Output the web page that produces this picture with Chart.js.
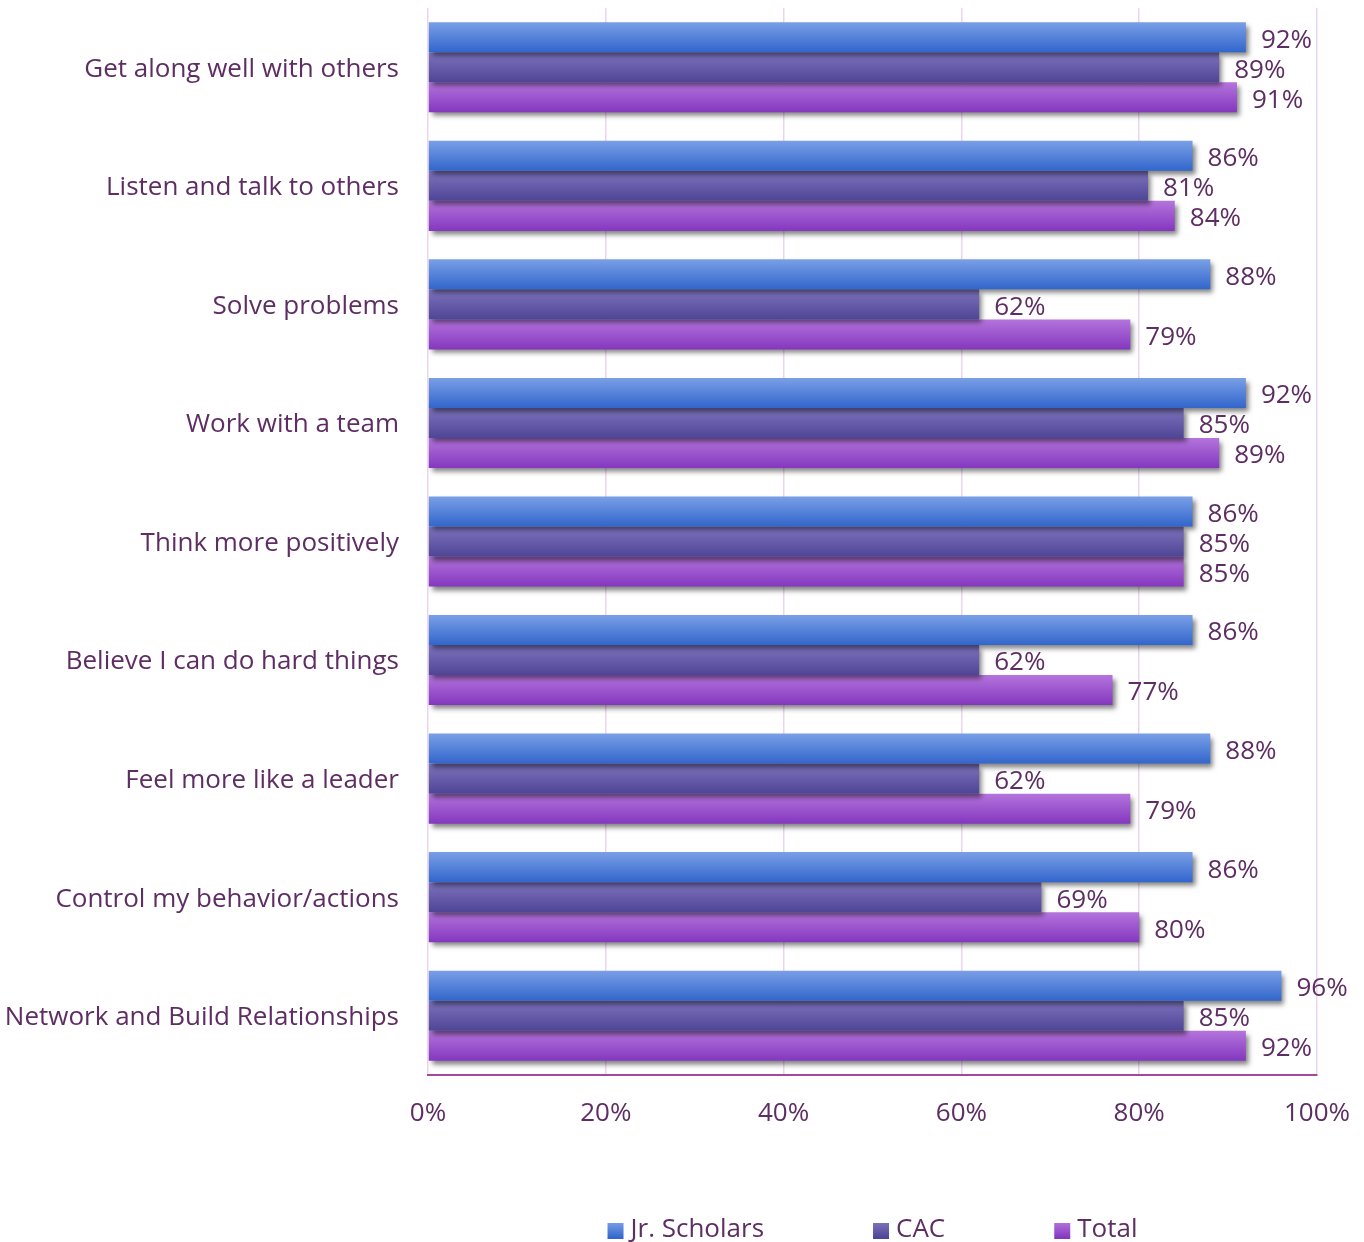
<!DOCTYPE html>
<html>
<head>
<meta charset="utf-8">
<script src="https://cdn.jsdelivr.net/npm/chart.js@4"></script>
<style>
  html, body { margin: 0; padding: 0; background: #fff; }
  #wrap { width: 1364px; height: 1242px; position: relative; }
</style>
</head>
<body>
<div id="wrap"><canvas id="skillsChart"></canvas></div>
<script>
// Skills gained, by program
const categories = [
    'Get along well with others',
    'Listen and talk to others',
    'Solve problems',
    'Work with a team',
    'Think more positively',
    'Believe I can do hard things',
    'Feel more like a leader',
    'Control my behavior/actions',
    'Network and Build Relationships'
];
const seriesNames = ['Jr. Scholars', 'CAC', 'Total'];
const jrScholars = [92, 86, 88, 92, 86, 86, 88, 86, 96];
const cac = [89, 81, 62, 85, 85, 62, 62, 69, 85];
const total = [91, 84, 79, 89, 85, 77, 79, 80, 92];
const xTicks = [0, 20, 40, 60, 80, 100];

const TEXT = '#5e2d63';
const FONT = 'Open Sans';
const FONT_SIZE = 26;
const CAT_PCT = 0.76;

// top / bottom colours of each bar gradient
const shades = [
    ['#7a9fe6', '#3266cc'],
    ['#7d73bd', '#4f4596'],
    ['#b474dc', '#8437bf']
];

function barGradient(ctx, datasetIndex) {
    const chart = ctx.chart;
    const y = chart.scales && chart.scales.y;
    if (!chart.chartArea || !y || ctx.dataIndex === undefined) return shades[datasetIndex][1];
    const band = (y.height / categories.length) * CAT_PCT;
    const h = band / 3;
    const top = y.getPixelForValue(ctx.dataIndex) - band / 2 + datasetIndex * h;
    const g = chart.ctx.createLinearGradient(0, top, 0, top + h);
    g.addColorStop(0, shades[datasetIndex][0]);
    g.addColorStop(1, shades[datasetIndex][1]);
    return g;
}

// soft drop shadow under the bars
const barShadow = {
    id: 'barShadow',
    beforeDatasetDraw(chart) {
        const c = chart.ctx;
        c.save();
        c.shadowColor = 'rgba(0, 0, 0, 0.5)';
        c.shadowBlur = 5;
        c.shadowOffsetX = 3;
        c.shadowOffsetY = 4;
    },
    afterDatasetDraw(chart) {
        chart.ctx.restore();
    }
};

// value labels to the right of each bar
const valueLabels = {
    id: 'valueLabels',
    afterDatasetsDraw(chart) {
        const c = chart.ctx;
        c.save();
        c.font = FONT_SIZE + 'px "' + FONT + '"';
        c.fillStyle = TEXT;
        c.textAlign = 'left';
        c.textBaseline = 'middle';
        chart.data.datasets.forEach((ds, di) => {
            chart.getDatasetMeta(di).data.forEach((bar, i) => {
                c.fillText(ds.data[i] + '%', bar.x + 15, bar.y + 3);
            });
        });
        c.restore();
    }
};

// legend row centred under the plot area
const bottomLegend = {
    id: 'bottomLegend',
    afterDraw(chart) {
        const c = chart.ctx;
        const area = chart.chartArea;
        const box = 16, gapText = 7, gapItem = 109, cy = 1230;
        c.save();
        c.font = FONT_SIZE + 'px "' + FONT + '"';
        c.textBaseline = 'middle';
        const widths = seriesNames.map(n => box + gapText + c.measureText(n).width);
        const totalW = widths.reduce((a, b) => a + b, 0) + gapItem * (seriesNames.length - 1);
        let x = (area.left + area.right) / 2 - totalW / 2;
        seriesNames.forEach((n, i) => {
            const g = c.createLinearGradient(0, cy - box / 2, 0, cy + box / 2);
            g.addColorStop(0, shades[i][0]);
            g.addColorStop(1, shades[i][1]);
            c.fillStyle = g;
            c.fillRect(x, cy - box / 2 + 1, box, box);
            c.fillStyle = TEXT;
            c.fillText(n, x + box + gapText, cy);
            x += widths[i] + gapItem;
        });
        c.restore();
    }
};

const data = {
    labels: categories,
    datasets: [jrScholars, cac, total].map((values, di) => ({
        label: seriesNames[di],
        data: values,
        backgroundColor: (ctx) => barGradient(ctx, di),
        borderWidth: 0,
        barPercentage: 1.0,
        categoryPercentage: CAT_PCT
    }))
};

new Chart(document.getElementById('skillsChart'), {
    type: 'bar',
    data: data,
    plugins: [barShadow, valueLabels, bottomLegend],
    options: {
        indexAxis: 'y',
        responsive: true,
        maintainAspectRatio: false,
        animation: false,
        layout: {
            padding: { top: 8, right: 47, bottom: 0, left: 0 }
        },
        plugins: {
            legend: { display: false },
            tooltip: { enabled: false }
        },
        scales: {
            x: {
                min: 0,
                max: 100,
                afterBuildTicks: (scale) => {
                    scale.ticks = xTicks.map(v => ({ value: v }));
                },
                afterFit: (scale) => {
                    scale.height = 167;
                    scale.paddingLeft = 0;
                    scale.paddingRight = 0;
                },
                grid: {
                    color: '#ecd5ec',
                    lineWidth: 1.5,
                    drawTicks: false
                },
                border: {
                    display: true,
                    color: '#a6479f',
                    width: 2
                },
                ticks: {
                    padding: 23,
                    color: TEXT,
                    font: { family: FONT, size: FONT_SIZE },
                    callback: (v) => v + '%'
                }
            },
            y: {
                afterFit: (scale) => {
                    scale.width = 428;
                    scale.paddingTop = 0;
                    scale.paddingBottom = 0;
                },
                grid: { display: false, drawTicks: false },
                border: { display: false },
                ticks: {
                    padding: 29,
                    labelOffset: 2,
                    color: TEXT,
                    font: { family: FONT, size: FONT_SIZE }
                }
            }
        }
    }
});
</script>
</body>
</html>
